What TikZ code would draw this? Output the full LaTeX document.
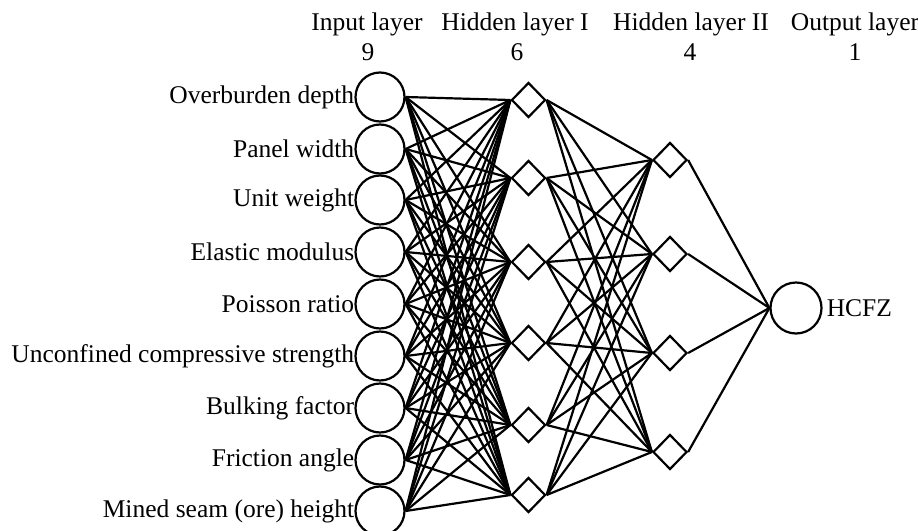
\documentclass[tikz,border=0pt]{standalone}
\usepackage{fontspec}
\setmainfont{Liberation Serif}
\usetikzlibrary{shapes.geometric}
\begin{document}
\begin{tikzpicture}[x=1pt,y=-1pt,
  neuron/.style={circle,draw,line width=2.2pt,inner sep=0pt,minimum size=49pt},
  hid/.style={diamond,draw,line width=2.2pt,inner sep=0pt,minimum width=34pt,minimum height=35pt},
  conn/.style={line width=2.2pt},
  lbl/.style={font=\fontsize{25.5}{30}\selectfont,inner sep=0pt}]
\useasboundingbox (0,0) rectangle (918,530);
% input layer
\foreach \i/\yy/\t in {1/97/Overburden depth,2/149/Panel width,3/200/Unit weight,4/252/Elastic modulus,5/304/Poisson ratio,6/356/Unconfined compressive strength,7/408/Bulking factor,8/460/Friction angle,9/511/Mined seam (ore) height}{
  \node[neuron] (in\i) at (380,\yy) {};
  \node[lbl,anchor=east] (lab\i) at (in\i.west) {\t};
}
% hidden layer I
\foreach \j/\yy in {1/100,2/178,3/262,4/343,5/425,6/495}{
  \node[hid] (ha\j) at (528.5,\yy) {};
}
% hidden layer II
\foreach \k/\yy in {1/160,2/254,3/353,4/452}{
  \node[hid] (hb\k) at (670,\yy) {};
}
% output
\node[neuron,minimum size=51pt] (out) at (796,308) {};
\node[lbl,anchor=west,xshift=4pt] (outlab) at (out.east) {HCFZ};
% connectors
\foreach \i in {1,...,9}{\foreach \j in {1,...,6}{\draw[conn] (in\i.east) -- (ha\j.west);}}
\foreach \j in {1,...,6}{\foreach \k in {1,...,4}{\draw[conn] (ha\j.east) -- (hb\k.west);}}
\foreach \k in {1,...,4}{\draw[conn] (hb\k.east) -- (out.west);}
% titles
\node[lbl] (t1) at (367,24) {Input layer};
\node[lbl] (n1) at (368,52) {9};
\node[lbl] (t2) at (515,24) {Hidden layer I};
\node[lbl] (n2) at (517,52) {6};
\node[lbl] (t3) at (691,24) {Hidden layer II};
\node[lbl] (n3) at (690,52) {4};
\node[lbl] (t4) at (855,24) {Output layer};
\node[lbl] (n4) at (855,52) {1};
\end{tikzpicture}
\end{document}
